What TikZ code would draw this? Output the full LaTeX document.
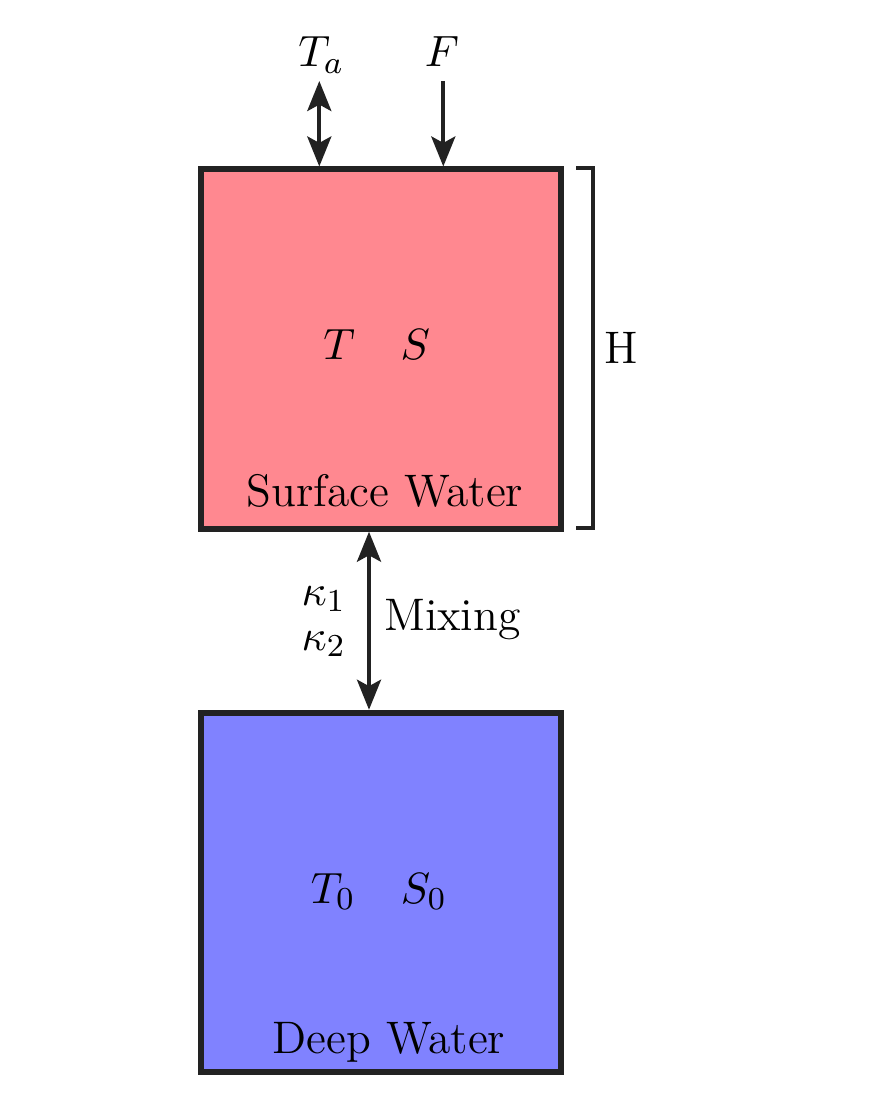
\documentclass[tikz,border=0pt]{standalone}
\usetikzlibrary{arrows.meta}
\definecolor{surfcol}{RGB}{255,136,144}
\definecolor{deepcol}{RGB}{128,130,255}
\definecolor{ink}{RGB}{34,34,34}
\begin{document}
\begin{tikzpicture}[x=0.25pt,y=-0.25pt,
  box/.style={draw=ink,line width=1.5pt,minimum width=89.95pt,minimum height=89.8pt,inner sep=0pt},
  lab/.style={font=\fontsize{11.4}{13.5}\selectfont,inner sep=0pt,text=black},
  arr/.style={draw=ink,line width=1pt,-{Stealth[length=7.5pt,width=6pt,inset=1.6pt]}},
  darr/.style={draw=ink,line width=1pt,{Stealth[length=7.5pt,width=6pt,inset=1.6pt]}-{Stealth[length=7.5pt,width=6pt,inset=1.6pt]}},
  brk/.style={draw=ink,line width=1pt}]
\useasboundingbox (0,0) rectangle (890,1099);
\node[box,fill=surfcol] (sw) at (380.6,349.1) {};
\node[box,fill=deepcol] (dw) at (380.6,892.35) {};
\node[lab,anchor=base] (swl) at (385,506.7) {Surface Water};
\node[lab,anchor=base] (dwl) at (389,1053.3) {Deep Water};
\node[lab,anchor=base] (ts) at (376.7,360) {$T\quad S$};
\node[lab,anchor=base] (ts0) at (378.8,903) {$T_0\quad S_0$};
\node[lab,anchor=base] (ta) at (321.3,66.7) {$T_a$};
\node[lab,anchor=base] (f) at (442,66.7) {$F$};
\coordinate (tatop) at (319.3,81);
\coordinate (ftop) at (443.3,81);
\draw[darr] (tatop) -- (tatop |- sw.north);
\draw[arr] (ftop) -- (ftop |- sw.north);
\coordinate (mx) at (369,0);
\draw[darr] (mx |- sw.south) -- (mx |- dw.north);
\node[lab,anchor=base west] (mix) at (383.3,630) {Mixing};
\node[lab,anchor=base east] (k1) at (346.7,605) {$\kappa_1$};
\node[lab,anchor=base east] (k2) at (346.7,650) {$\kappa_2$};
\coordinate (b1) at (576,168);
\coordinate (b2) at (593.3,168);
\coordinate (b3) at (593.3,528);
\coordinate (b4) at (576,528);
\draw[brk] (b1) -- (b2) -- (b3) -- (b4);
\node[lab,anchor=base] (h) at (620.8,364) {H};
\end{tikzpicture}
\end{document}
